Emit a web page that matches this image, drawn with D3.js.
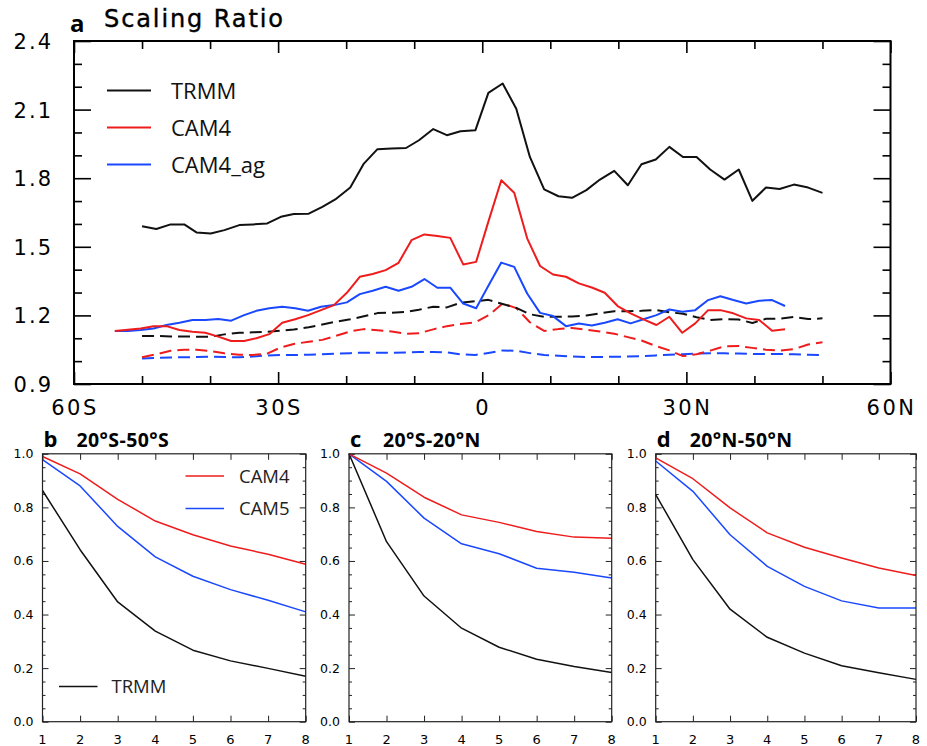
<!DOCTYPE html>
<html>
<head>
<meta charset="utf-8">
<script src="https://cdn.jsdelivr.net/npm/d3@7/dist/d3.min.js"></script>
<style>
  html, body { margin: 0; padding: 0; background: #fff; }
  svg { display: block; }
</style>
</head>
<body>
<svg id="fig" width="927" height="746"></svg>
<script>
// ---------- Panel a: scaling ratio vs latitude ----------
const obsLat = [-50,-47.9,-45.8,-43.8,-42,-39.9,-37.9,-35.7,-33.7,-31.6,-29.6,-27.7,-25.5,-23.5,-21.6,-19.4,-17.4,-15.4,-13.3,-11.2,-9.3,-7.2,-5.2,-3.2,-1.0,0.9,3.0,5.0,7.0,9.1,11.2,13.2,15.3,17.3,19.4,21.4,23.4,25.5,27.5,29.5,31.5,33.5,35.6,37.7,39.7,41.7,43.7,45.8,47.9,50];
const trmmRatio = [1.59,1.578,1.598,1.598,1.563,1.558,1.573,1.595,1.598,1.602,1.631,1.643,1.645,1.675,1.707,1.759,1.864,1.927,1.93,1.932,1.966,2.015,1.988,2.005,2.01,2.173,2.214,2.104,1.893,1.751,1.721,1.714,1.748,1.794,1.832,1.769,1.861,1.882,1.937,1.893,1.893,1.838,1.794,1.838,1.701,1.759,1.753,1.772,1.759,1.736];
const trmmDashed = [1.11,1.11,1.108,1.108,1.107,1.107,1.117,1.124,1.126,1.128,1.133,1.138,1.148,1.16,1.172,1.183,1.196,1.21,1.212,1.215,1.225,1.238,1.235,1.255,1.262,1.268,1.25,1.233,1.205,1.194,1.194,1.195,1.2,1.209,1.218,1.218,1.22,1.224,1.214,1.207,1.192,1.18,1.184,1.182,1.167,1.185,1.186,1.193,1.184,1.187];
const cam4Dashed = [1.017,1.03,1.045,1.05,1.05,1.044,1.034,1.028,1.027,1.033,1.06,1.075,1.085,1.093,1.11,1.13,1.14,1.135,1.13,1.12,1.122,1.139,1.153,1.162,1.17,1.2,1.252,1.232,1.17,1.132,1.14,1.145,1.137,1.13,1.12,1.105,1.09,1.066,1.047,1.022,1.03,1.046,1.065,1.066,1.058,1.05,1.046,1.052,1.073,1.083];
const cam4agDashed = [1.012,1.014,1.016,1.017,1.018,1.019,1.018,1.017,1.02,1.025,1.027,1.027,1.028,1.03,1.032,1.035,1.037,1.037,1.037,1.038,1.04,1.04,1.038,1.03,1.027,1.036,1.047,1.045,1.035,1.027,1.024,1.02,1.018,1.018,1.019,1.02,1.022,1.025,1.028,1.03,1.033,1.034,1.034,1.033,1.031,1.031,1.031,1.03,1.028,1.027];

const modelLat = [-54.0,-52.1,-50.2,-48.3,-46.4,-44.5,-42.6,-40.7,-38.8,-36.9,-35.0,-33.2,-31.3,-29.4,-27.5,-25.6,-23.7,-21.8,-19.9,-18.0,-16.1,-14.2,-12.3,-10.4,-8.5,-6.6,-4.7,-2.8,-0.9,0.9,2.8,4.7,6.6,8.5,10.4,12.3,14.2,16.1,18.0,19.9,21.8,23.7,25.6,27.5,29.4,31.3,33.2,35.0,36.9,38.8,40.7,42.6,44.5];
const cam4Ratio = [1.132,1.137,1.143,1.153,1.153,1.136,1.128,1.124,1.107,1.088,1.088,1.1,1.118,1.168,1.183,1.201,1.223,1.245,1.299,1.369,1.381,1.398,1.43,1.529,1.554,1.547,1.539,1.423,1.434,1.61,1.791,1.736,1.537,1.416,1.379,1.369,1.34,1.322,1.299,1.241,1.209,1.183,1.158,1.194,1.124,1.165,1.223,1.223,1.209,1.187,1.18,1.133,1.139];
const cam4agRatio = [1.132,1.132,1.136,1.143,1.158,1.168,1.18,1.18,1.184,1.177,1.201,1.22,1.231,1.238,1.231,1.22,1.238,1.245,1.257,1.293,1.308,1.325,1.308,1.325,1.359,1.321,1.321,1.252,1.231,1.33,1.431,1.412,1.296,1.211,1.197,1.153,1.165,1.156,1.168,1.183,1.165,1.183,1.201,1.226,1.216,1.223,1.267,1.284,1.267,1.252,1.264,1.267,1.241];

const latTicks = [-60,-30,0,30,60];
const latTickLabels = ["60S","30S","0","30N","60N"];
const ratioTicks = [0.9,1.2,1.5,1.8,2.1,2.4];
const legendA = ["TRMM","CAM4","CAM4_ag"];

// ---------- Panels b-d: normalised curves vs scale ----------
const scaleSteps = [1,2,3,4,5,6,7,8];
const regionTitles = ["20°S-50°S","20°S-20°N","20°N-50°N"];
const panelLetters = ["b","c","d"];
const cam4Decay = [
  [0.99,0.925,0.83,0.749,0.698,0.656,0.625,0.588],
  [1.0,0.928,0.838,0.772,0.744,0.71,0.689,0.685],
  [0.985,0.907,0.798,0.705,0.651,0.611,0.574,0.546]
];
const cam5Decay = [
  [0.978,0.88,0.729,0.615,0.543,0.493,0.453,0.41],
  [1.0,0.897,0.76,0.664,0.627,0.573,0.558,0.536],
  [0.973,0.86,0.698,0.58,0.505,0.451,0.424,0.424]
];
const trmmDecay = [
  [0.863,0.642,0.447,0.338,0.267,0.227,0.199,0.17],
  [1.0,0.672,0.469,0.349,0.278,0.233,0.206,0.184],
  [0.848,0.605,0.42,0.315,0.256,0.209,0.183,0.158]
];
const decayTicks = [0,0.2,0.4,0.6,0.8,1.0];

const RED = "#ee1c1c", BLUE = "#1a48ff", BLACK = "#111";
const svg = d3.select("#fig");
const numFont = "'DejaVu Sans', sans-serif";
const textFont = "'Open Sans', sans-serif";

// ===== Panel a =====
{
  const L = 74, R = 890.5, T = 41, B = 384;
  const x = d3.scaleLinear().domain([-60, 60]).range([L, R]);
  const y = d3.scaleLinear().domain([0.9, 2.4]).range([B, T]);
  const g = svg.append("g");

  const minorLat = d3.range(-50, 60, 10).filter(v => v % 30 !== 0);
  const minorRatio = d3.range(1.0, 2.4, 0.1).filter(v => Math.abs((v - 0.9) / 0.3 - Math.round((v - 0.9) / 0.3)) > 0.01);

  const styleAxis = sel => {
    sel.select(".domain").remove();
    sel.selectAll(".tick line").attr("stroke", "#000").attr("stroke-width", 1.6);
  };
  // bottom / top ticks
  g.append("g").attr("transform", `translate(0,${B})`)
    .call(d3.axisBottom(x).tickValues(latTicks).tickSize(-12).tickFormat(""))
    .call(styleAxis);
  g.append("g").attr("transform", `translate(0,${B})`)
    .call(d3.axisBottom(x).tickValues(minorLat).tickSize(-8).tickFormat(""))
    .call(styleAxis);
  g.append("g").attr("transform", `translate(0,${T})`)
    .call(d3.axisTop(x).tickValues(latTicks).tickSize(-12).tickFormat(""))
    .call(styleAxis);
  g.append("g").attr("transform", `translate(0,${T})`)
    .call(d3.axisTop(x).tickValues(minorLat).tickSize(-8).tickFormat(""))
    .call(styleAxis);
  // left / right ticks
  g.append("g").attr("transform", `translate(${L},0)`)
    .call(d3.axisLeft(y).tickValues(ratioTicks).tickSize(-17).tickFormat(""))
    .call(styleAxis);
  g.append("g").attr("transform", `translate(${L},0)`)
    .call(d3.axisLeft(y).tickValues(minorRatio).tickSize(-8).tickFormat(""))
    .call(styleAxis);
  g.append("g").attr("transform", `translate(${R},0)`)
    .call(d3.axisRight(y).tickValues(ratioTicks).tickSize(-17).tickFormat(""))
    .call(styleAxis);
  g.append("g").attr("transform", `translate(${R},0)`)
    .call(d3.axisRight(y).tickValues(minorRatio).tickSize(-8).tickFormat(""))
    .call(styleAxis);

  // tick labels
  g.selectAll("text.ylab").data(ratioTicks).join("text")
    .attr("class", "ylab")
    .attr("x", 53).attr("y", d => y(d) + 8)
    .attr("text-anchor", "end")
    .attr("font-family", numFont).attr("font-size", 21)
    .attr("letter-spacing", 2)
    .text(d => d.toFixed(1));
  g.selectAll("text.xlab").data(latTicks).join("text")
    .attr("class", "xlab")
    .attr("x", d => x(d) + 1).attr("y", 415)
    .attr("text-anchor", "middle")
    .attr("font-family", numFont).attr("font-size", 21)
    .attr("letter-spacing", 2.5)
    .text((d, i) => latTickLabels[i]);

  const line = d3.line().x(d => x(d[0])).y(d => y(d[1]));
  const series = [
    { lat: obsLat, v: cam4agDashed, c: BLUE, dash: "12,6" },
    { lat: obsLat, v: cam4Dashed, c: RED, dash: "12,6" },
    { lat: obsLat, v: trmmDashed, c: BLACK, dash: "12,6" },
    { lat: modelLat, v: cam4agRatio, c: BLUE, dash: null },
    { lat: modelLat, v: cam4Ratio, c: RED, dash: null },
    { lat: obsLat, v: trmmRatio, c: BLACK, dash: null }
  ];
  g.selectAll("path.series").data(series).join("path")
    .attr("class", "series")
    .attr("d", s => line(s.lat.map((l, i) => [l, s.v[i]])))
    .attr("fill", "none")
    .attr("stroke", s => s.c)
    .attr("stroke-width", 2)
    .attr("stroke-linejoin", "round")
    .attr("stroke-dasharray", s => s.dash);

  // frame
  g.append("rect").attr("x", L).attr("y", T).attr("width", R - L).attr("height", B - T)
    .attr("fill", "none").attr("stroke", "#000").attr("stroke-width", 2);

  // legend
  const legColors = [BLACK, RED, BLUE];
  const lg = g.selectAll("g.leg").data(legendA).join("g").attr("class", "leg")
    .attr("transform", (d, i) => `translate(107,${90.5 + i * 37})`);
  lg.append("line").attr("x1", 0).attr("x2", 44).attr("stroke", (d, i) => legColors[i]).attr("stroke-width", 2.2);
  lg.append("text").attr("x", 64).attr("y", 8).attr("font-family", textFont).attr("font-size", 22)
    .attr("fill", "#111").text(d => d);

  // title
  svg.append("text").attr("x", 70).attr("y", 32).attr("font-family", textFont)
    .attr("font-weight", "bold").attr("font-size", 24).text("a");
  svg.append("text").attr("x", 104).attr("y", 27).attr("font-family", numFont)
    .attr("font-size", 24).attr("letter-spacing", 1.9)
    .attr("stroke", "#000").attr("stroke-width", 0.4).text("Scaling Ratio");
}

// ===== Panels b, c, d =====
const panelX = [[42.5, 305.7], [349, 611.7], [655.7, 916]];
const PT = 453.8, PB = 721.7;
panelX.forEach(([L, R], p) => {
  const x = d3.scaleLinear().domain([1, 8]).range([L, R]);
  const y = d3.scaleLinear().domain([0, 1]).range([PB, PT]);
  const g = svg.append("g");
  const minorY = d3.range(0.05, 1.0, 0.05).filter(v => Math.abs(v * 5 - Math.round(v * 5)) > 0.01);

  const styleAxis = sel => {
    sel.select(".domain").remove();
    sel.selectAll(".tick line").attr("stroke", "#222").attr("stroke-width", 1);
  };
  g.append("g").attr("transform", `translate(0,${PB})`)
    .call(d3.axisBottom(x).tickValues(scaleSteps).tickSize(-6).tickFormat("")).call(styleAxis);
  g.append("g").attr("transform", `translate(0,${PT})`)
    .call(d3.axisTop(x).tickValues(scaleSteps).tickSize(-6).tickFormat("")).call(styleAxis);
  g.append("g").attr("transform", `translate(${L},0)`)
    .call(d3.axisLeft(y).tickValues(decayTicks).tickSize(-6).tickFormat("")).call(styleAxis);
  g.append("g").attr("transform", `translate(${L},0)`)
    .call(d3.axisLeft(y).tickValues(minorY).tickSize(-3).tickFormat("")).call(styleAxis);
  g.append("g").attr("transform", `translate(${R},0)`)
    .call(d3.axisRight(y).tickValues(decayTicks).tickSize(-6).tickFormat("")).call(styleAxis);
  g.append("g").attr("transform", `translate(${R},0)`)
    .call(d3.axisRight(y).tickValues(minorY).tickSize(-3).tickFormat("")).call(styleAxis);

  g.selectAll("text.ylab").data(decayTicks).join("text")
    .attr("class", "ylab")
    .attr("x", L - 9).attr("y", d => y(d) + 4.5)
    .attr("text-anchor", "end")
    .attr("font-family", numFont).attr("font-size", 12.5)
    .text(d => d.toFixed(1));
  g.selectAll("text.xlab").data(scaleSteps).join("text")
    .attr("class", "xlab")
    .attr("x", d => x(d)).attr("y", 744)
    .attr("text-anchor", "middle")
    .attr("font-family", numFont).attr("font-size", 13)
    .text(d => d);

  const line = d3.line().x((d, i) => x(scaleSteps[i])).y(d => y(d));
  [[trmmDecay[p], BLACK], [cam5Decay[p], BLUE], [cam4Decay[p], RED]].forEach(([vals, c]) => {
    g.append("path").attr("d", line(vals)).attr("fill", "none")
      .attr("stroke", c).attr("stroke-width", 1.5).attr("stroke-linejoin", "round");
  });

  g.append("rect").attr("x", L).attr("y", PT).attr("width", R - L).attr("height", PB - PT)
    .attr("fill", "none").attr("stroke", "#222").attr("stroke-width", 1.2);

  // panel heading
  g.append("text").attr("x", L + 1).attr("y", 447).attr("font-family", textFont)
    .attr("font-weight", "bold").attr("font-size", 22).text(panelLetters[p]);
  g.append("text").attr("x", L + 34).attr("y", 447).attr("font-family", textFont)
    .attr("font-weight", "bold").attr("font-size", 19.5).attr("letter-spacing", 0.4).text(regionTitles[p]);

  if (p === 0) {
    const legs = [["CAM4", RED, 476], ["CAM5", BLUE, 508.5], ["TRMM", BLACK, 686.5]];
    legs.forEach(([name, c, ly], i) => {
      const lx = i < 2 ? 185.5 : 59;
      g.append("line").attr("x1", lx).attr("x2", lx + 38.5).attr("y1", ly).attr("y2", ly)
        .attr("stroke", c).attr("stroke-width", 1.5);
      g.append("text").attr("x", i < 2 ? 239 : 111.5).attr("y", ly + 6.5)
        .attr("font-family", textFont).attr("font-size", 18.5).attr("fill", "#222").text(name);
    });
  }
});
</script>
</body>
</html>
